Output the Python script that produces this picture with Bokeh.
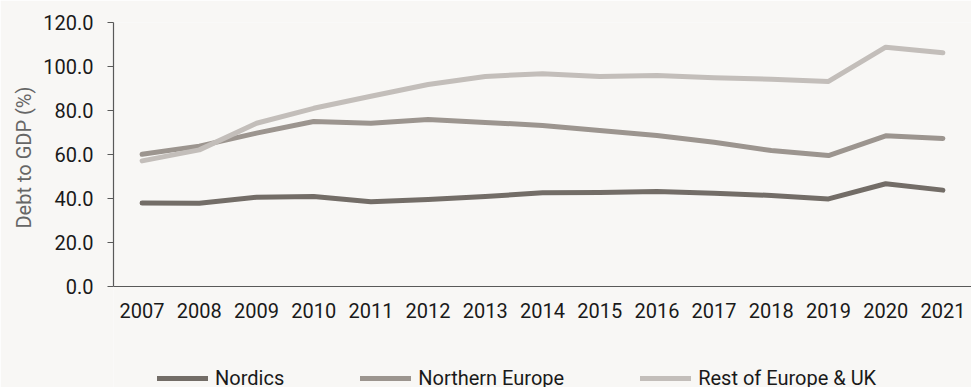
from bokeh.plotting import figure
from bokeh.models import Range1d, FixedTicker, Legend, LegendItem, CustomJSTickFormatter, Title
from bokeh.embed import file_html
from bokeh.resources import INLINE

years = [2007, 2008, 2009, 2010, 2011, 2012, 2013, 2014, 2015, 2016, 2017, 2018, 2019, 2020, 2021]
nordics = [37.9, 37.8, 40.6, 40.9, 38.5, 39.5, 40.9, 42.6, 42.7, 43.2, 42.4, 41.4, 39.8, 46.7, 43.8]
northern_europe = [60.1, 63.8, 69.7, 75.0, 74.2, 75.9, 74.6, 73.2, 70.9, 68.6, 65.6, 61.8, 59.5, 68.5, 67.3]
rest_of_europe_uk = [57.1, 62.1, 74.2, 81.0, 86.5, 91.8, 95.5, 96.7, 95.5, 95.9, 94.9, 94.2, 93.2, 108.8, 106.2]
series_names = ["Nordics", "Northern Europe", "Rest of Europe & UK"]
y_ticks = [0, 20, 40, 60, 80, 100, 120]
y_label = "Debt to GDP (%)"

colors = ["#736d67", "#9c958f", "#c3beba"]
bg = "#f8f7f5"
font = "Roboto"
series = [nordics, northern_europe, rest_of_europe_uk]

# the frame reaches the bottom of the page so that the legend below the
# x axis (which sits at y = 0) is drawn inside it
y_min = -101 / 2.2
p = figure(width=971, height=387, output_backend="svg", toolbar_location=None,
           x_range=Range1d(years[0] - 0.5, years[-1] + 0.5), y_range=Range1d(y_min, 120),
           min_border_left=113, min_border_right=0, min_border_top=22, min_border_bottom=0)
p.background_fill_color = bg
p.border_fill_color = bg
p.outline_line_color = None
p.grid.visible = False

renderers = []
for vals, c in zip(series, colors):
    r = p.line(years, vals, line_color=c, line_width=5, line_cap="round", line_join="round")
    renderers.append(r)

# x axis, fixed at y = 0
xa = p.xaxis[0]
xa.fixed_location = 0
xa.ticker = FixedTicker(ticks=years)
xa.major_tick_line_color = None
xa.minor_tick_line_color = None
xa.axis_line_color = "#595959"
xa.axis_line_width = 1.2
xa.major_label_text_font = font
xa.major_label_text_font_size = "20px"
xa.major_label_text_color = "#1a1a1a"
xa.major_label_standoff = 10

# y axis
ya = p.yaxis[0]
ya.bounds = (0, 120)
ya.ticker = FixedTicker(ticks=y_ticks)
ya.formatter = CustomJSTickFormatter(code="return tick.toFixed(1);")
ya.major_tick_in = 0
ya.major_tick_out = 6
ya.minor_tick_line_color = None
ya.major_tick_line_color = "#595959"
ya.axis_line_color = "#595959"
ya.axis_line_width = 1.2
ya.major_label_text_font = font
ya.major_label_text_font_size = "20px"
ya.major_label_text_color = "#1a1a1a"
ya.major_label_standoff = 14

# y axis title, centred on the 0-120 span of the axis
yt = Title(text=y_label, align="left", offset=159, standoff=10,
           text_font=font, text_font_style="normal", text_font_size="20px", text_color="#666666")
p.add_layout(yt, "left")

legend = Legend(items=[LegendItem(label=n, renderers=[r]) for n, r in zip(series_names, renderers)],
                orientation="horizontal", location=(44, -3),
                glyph_width=51, glyph_height=14, label_height=14, label_standoff=7, spacing=76,
                padding=0, margin=0, border_line_color=None, background_fill_alpha=0,
                label_text_font=font, label_text_font_size="20px", label_text_color="#1a1a1a")
p.add_layout(legend, "center")

open("out.html", "w").write(file_html(p, INLINE))
